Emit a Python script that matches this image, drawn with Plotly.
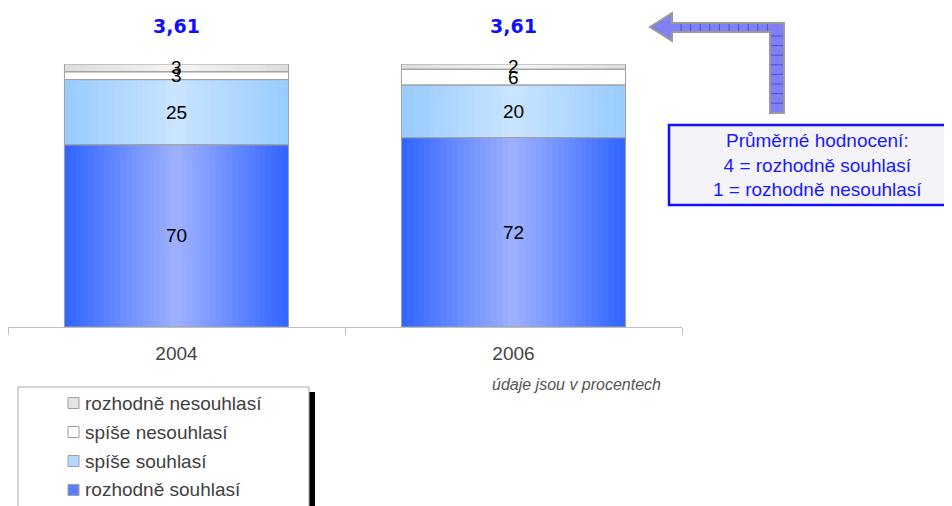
import numpy as np
import plotly.graph_objects as go

# ---- data ----
years = ["2004", "2006"]
series_names = ["rozhodně souhlasí", "spíše souhlasí", "spíše nesouhlasí", "rozhodně nesouhlasí"]
rozhodne_souhlasi = [70, 72]
spise_souhlasi = [25, 20]
spise_nesouhlasi = [3, 6]
rozhodne_nesouhlasi = [3, 2]
averages = ["3,61", "3,61"]

# ---- styling ----
edge_colors = [(0x33, 0x66, 0xFF), (0x99, 0xCC, 0xFF), (0xFF, 0xFF, 0xFF), (0xDE, 0xDE, 0xDE)]
center_colors = [(0x9C, 0xB0, 0xFF), (0xC8, 0xE4, 0xFF), (0xFF, 0xFF, 0xFF), (0xF4, 0xF4, 0xF4)]
legend_colors = ["#5a7cff", "#b4d8ff", "#ffffff", "#e4e4e4"]

W, H = 952, 506
O = 8  # page body offset
# target positions in screenshot pixels
SL, SR, ST, SB = 8, 682, 64, 327
PL, PR, PT, PB = SL - O, SR - O, ST - O, SB - O
BAR_W = 0.665
K = 20
FONT = "Liberation Sans, Arial, sans-serif"


def px(x):
    return (x - O - PL) / (PR - PL)


def py(y):
    return (PB - (y - O)) / (PB - PT)


def lerp(c1, c2, t):
    return "rgb(%d,%d,%d)" % tuple(round(a + (b - a) * t) for a, b in zip(c1, c2))


vals = np.array([rozhodne_souhlasi, spise_souhlasi, spise_nesouhlasi, rozhodne_nesouhlasi], dtype=float)
totals = vals.sum(axis=0)
norm = vals / totals * 100.0
tops = np.cumsum(norm, axis=0)
bases = tops - norm

fig = go.Figure()

# gradient fills (stepped)
for i in range(len(series_names)):
    for k in range(K):
        fig.add_trace(go.Bar(
            x=years, y=norm[i], base=bases[i], width=BAR_W * (1 - k / K),
            marker=dict(color=lerp(edge_colors[i], center_colors[i], k / (K - 1)), line=dict(width=0)),
            showlegend=False, hoverinfo="skip"))

# outlines
for i in range(len(series_names)):
    fig.add_trace(go.Bar(
        x=years, y=norm[i], base=bases[i], width=BAR_W,
        marker=dict(color="rgba(0,0,0,0)", line=dict(color="#a0a0a0", width=1)),
        showlegend=False, hoverinfo="skip"))

# legend entries (top of stack first); swatches drawn as shapes next to the text
for i in reversed(range(len(series_names))):
    fig.add_trace(go.Bar(
        x=[None], y=[None], name=series_names[i], legendgroup=series_names[i],
        marker=dict(color="rgba(0,0,0,0)", line=dict(width=0))))

annotations = []
for i in range(len(series_names)):
    for j, yr in enumerate(years):
        annotations.append(dict(
            x=j, y=bases[i][j] + norm[i][j] / 2, xref="x", yref="y",
            xanchor="center", yanchor="middle",
            text=str(int(vals[i][j])), showarrow=False,
            font=dict(family=FONT, size=19, color="#000000")))

for j, yr in enumerate(years):
    annotations.append(dict(
        x=j, y=py(26), xref="x", yref="paper", text="<b>%s</b>" % averages[j],
        xanchor="center", yanchor="middle",
        showarrow=False, font=dict(family="DejaVu Sans, Verdana, sans-serif", size=19, color="#1010ff")))

annotations.append(dict(
    x=px(576), y=py(384), xref="paper", yref="paper", text="<i>údaje jsou v procentech</i>",
    xanchor="center", yanchor="middle",
    showarrow=False, font=dict(family=FONT, size=16, color="#555555")))

annotations.append(dict(
    x=px(817), y=py(165), xref="paper", yref="paper",
    text="Průměrné hodnocení:<br>4 = rozhodně souhlasí<br>1 = rozhodně nesouhlasí",
    xanchor="center", yanchor="middle",
    showarrow=False, align="center",
    font=dict(family=FONT, size=19, color="#1a1aff")))

# arrow path (screen pixels)
arrow_pts = [(650, 27), (672, 13), (672, 23), (784, 23), (784, 113), (770, 113), (770, 32), (672, 32), (672, 41)]
path = "M " + " L ".join("%.5f,%.5f" % (px(x), py(y)) for x, y in arrow_pts) + " Z"

# arrow grid texture
segs = []
xt = 681.0
while xt < 770:
    segs.append(((xt, 24), (xt, 31)))
    xt += 9.6
yt = 36.0
while yt < 112:
    segs.append(((771, yt), (783, yt)))
    yt += 9.6
grid_path = " ".join("M %.5f,%.5f L %.5f,%.5f" % (px(a[0]), py(a[1]), px(b[0]), py(b[1])) for a, b in segs)

shapes = [
    # legend box with shadow
    dict(type="rect", xref="paper", yref="paper", x0=px(309), x1=px(315), y0=py(392), y1=py(530),
         fillcolor="#000000", line=dict(width=0), layer="below"),
    dict(type="rect", xref="paper", yref="paper", x0=px(18), x1=px(309), y0=py(387), y1=py(530),
         fillcolor="#ffffff", line=dict(color="#a8a8a8", width=1), layer="below"),
    # info box
    dict(type="rect", xref="paper", yref="paper", x0=px(669), x1=px(970), y0=py(125), y1=py(205),
         fillcolor="#f3f3f8", line=dict(color="#1010ff", width=2.5)),
    # arrow
    dict(type="path", xref="paper", yref="paper", path=path,
         fillcolor="#8080f2", line=dict(color="#9a9a9a", width=2)),
    dict(type="path", xref="paper", yref="paper", path=grid_path,
         line=dict(color="rgba(40,40,230,0.6)", width=1)),
]

# legend swatches (screen pixels), top item first
swatch_rows = [403, 432, 461, 490]
for r, i in zip(swatch_rows, reversed(range(len(series_names)))):
    shapes.append(dict(type="rect", xref="paper", yref="paper",
                       x0=px(68), x1=px(79), y0=py(r - 5.5), y1=py(r + 5.5),
                       fillcolor=legend_colors[i], line=dict(color="#a0a0a0", width=1)))

fig.update_layout(
    width=W, height=H,
    margin=dict(l=PL, r=W - PR, t=PT, b=H - PB, autoexpand=False),
    paper_bgcolor="white", plot_bgcolor="white",
    barmode="overlay",
    showlegend=True,
    legend=dict(xref="container", yref="container", x=(45 - O) / W, y=1 - (384 - O) / H,
                xanchor="left", yanchor="top", bgcolor="rgba(0,0,0,0)", borderwidth=0,
                font=dict(family=FONT, size=19, color="#404040"),
                traceorder="grouped", tracegroupgap=1),
    xaxis=dict(type="category", categoryorder="array", categoryarray=years,
               showline=True, linecolor="#c0c0c0", linewidth=1,
               ticks="outside", tickson="boundaries", ticklen=7, tickcolor="#c0c0c0",
               ticklabelstandoff=9,
               tickfont=dict(family=FONT, size=19, color="#444444"), showgrid=False,
               range=[-0.5, 1.5]),
    yaxis=dict(range=[0, 100], visible=False, showgrid=False),
    annotations=annotations,
    shapes=shapes,
)

fig.write_html("out.html")
